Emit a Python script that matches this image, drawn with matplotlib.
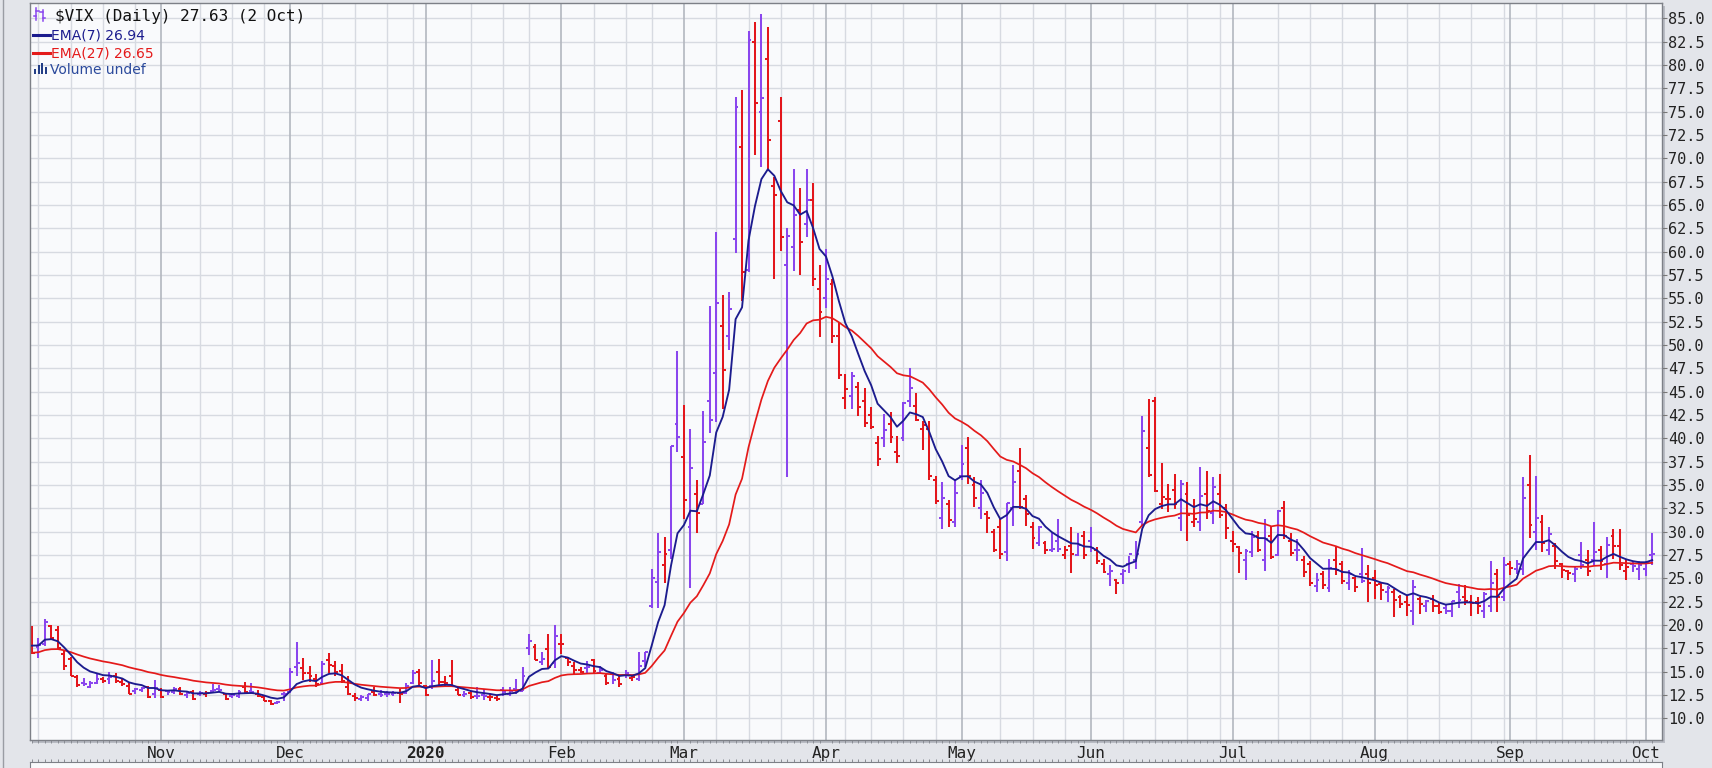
import numpy as np
import pandas as pd
import matplotlib
matplotlib.use("Agg")
import matplotlib.pyplot as plt
from matplotlib.lines import Line2D
from matplotlib.patches import Rectangle

# ---------------- data ----------------
holidays = ['2019-11-28', '2019-12-25', '2020-01-01', '2020-01-20', '2020-02-17',
            '2020-04-10', '2020-05-25', '2020-07-03', '2020-09-07']
dates = pd.bdate_range('2019-10-04', '2020-10-02')
dates = dates[~dates.isin(pd.to_datetime(holidays))]

month_labels = ['Nov', 'Dec', '2020', 'Feb', 'Mar', 'Apr', 'May', 'Jun', 'Jul', 'Aug', 'Sep', 'Oct']
yticks = [10.0, 12.5, 15.0, 17.5, 20.0, 22.5, 25.0, 27.5, 30.0, 32.5, 35.0, 37.5, 40.0, 42.5,
          45.0, 47.5, 50.0, 52.5, 55.0, 57.5, 60.0, 62.5, 65.0, 67.5, 70.0, 72.5, 75.0, 77.5,
          80.0, 82.5, 85.0]

warmup_close = [19.32, 20.31, 19.35, 17.88, 18.98, 19.66, 17.33, 15.82, 15.00, 15.27, 15.20,
                14.61, 14.22, 13.74, 14.67, 14.44, 13.95, 14.05, 15.32, 14.91, 17.05, 15.96,
                16.07, 17.22, 16.24, 18.56, 20.56, 19.12]

open_ = [
    # Oct 2019
    18.9, 17.6, 18.0, 19.9, 19.5, 16.9, 16.3, 14.4, 13.8, 13.4, 13.8, 14.2, 14.2, 14.5, 13.9, 13.5, 12.9, 13.0, 13.3, 12.6,
    # Nov
    13.0, 12.9, 12.8, 13.1, 12.5, 12.8, 12.6, 12.6, 12.9, 13.1, 12.6, 12.4, 12.4, 13.3, 12.9, 12.6, 12.3, 11.9, 11.6, 12.6,
    # Dec
    12.8, 15.5, 15.4, 14.9, 14.2, 13.8, 16.2, 15.6, 15.1, 13.4, 12.4, 12.1, 12.2, 12.8, 12.6, 12.6, 12.6, 12.7, 12.7, 13.8, 15.0,
    # Jan 2020
    13.5, 13.5, 15.0, 13.9, 14.5, 13.0, 12.5, 12.7, 12.4, 12.5, 12.3, 12.2, 13.0, 12.6, 13.1, 12.9, 17.5, 17.6, 16.0, 17.4, 15.9,
    # Feb
    18.0, 16.5, 15.6, 15.2, 15.4, 16.2, 14.9, 14.5, 14.7, 14.2, 14.6, 14.3, 14.2, 16.1, 22.0, 24.6, 26.4, 28.0, 41.5,
    # Mar
    38.0, 30.5, 34.0, 33.0, 44.0, 47.0, 52.0, 51.0, 61.4, 71.2, 58.0, 82.5, 75.0, 80.6, 67.0, 74.0, 58.6, 60.5, 64.5, 63.0, 65.5, 56.0,
    # Apr
    55.0, 56.5, 51.0, 44.3, 44.5, 45.5, 44.0, 42.5, 39.5, 40.0, 41.5, 38.5, 40.0, 44.0, 43.5, 41.0, 41.0, 35.5, 31.5, 33.0, 31.0,
    # May
    36.0, 39.0, 35.0, 32.5, 31.9, 30.0, 30.5, 27.8, 32.5, 36.5, 33.5, 30.5, 28.8, 28.8, 28.0, 29.0, 27.5, 28.5, 27.5, 29.5,
    # Jun
    29.0, 28.0, 26.5, 25.5, 24.8, 25.5, 26.5, 27.0, 31.0, 39.0, 44.0, 33.0, 33.5, 34.5, 31.5, 34.0, 31.0, 31.0, 34.0, 32.0, 34.0, 32.5,
    # Jul
    29.0, 28.3, 27.0, 27.8, 29.5, 27.0, 29.5, 27.5, 32.5, 29.0, 28.0, 27.0, 26.5, 24.2, 25.5, 24.0, 27.0, 26.5, 24.5, 25.0, 25.5, 25.5,
    # Aug
    25.0, 24.4, 23.5, 23.5, 23.0, 22.5, 21.5, 22.8, 22.0, 22.8, 22.0, 21.8, 21.5, 23.5, 23.0, 22.5, 22.5, 21.5, 22.0, 25.5, 23.0,
    # Sep
    26.5, 26.0, 26.0, 35.0, 30.0, 31.0, 28.0, 28.5, 26.5, 25.8, 25.5, 27.5, 27.0, 27.0, 28.0, 26.5, 29.5, 28.5, 25.8, 26.5, 26.0,
    # Oct 2020
    26.0, 27.5,
]

high = [
    19.9, 18.6, 20.6, 20.0, 19.9, 17.2, 16.6, 14.6, 14.3, 14.0, 14.9, 14.4, 15.0, 14.8, 14.3, 13.8, 13.2, 13.4, 13.5, 14.1,
    13.2, 13.0, 13.3, 13.4, 12.9, 13.0, 12.9, 12.9, 13.7, 13.6, 12.7, 12.7, 13.0, 13.9, 13.8, 13.0, 12.5, 12.0, 11.9, 12.8,
    15.4, 18.2, 16.5, 15.6, 14.7, 16.1, 17.0, 16.1, 15.8, 14.5, 12.7, 12.5, 12.6, 13.3, 13.0, 12.9, 12.9, 13.1, 13.8, 15.2, 15.3,
    13.6, 16.2, 16.4, 14.5, 16.2, 13.3, 12.9, 12.9, 13.3, 13.1, 12.6, 12.4, 13.4, 13.3, 14.2, 15.5, 19.0, 18.0, 17.1, 19.0, 20.0,
    19.0, 16.6, 16.0, 15.5, 16.1, 16.3, 15.6, 14.7, 15.0, 14.6, 15.2, 14.6, 17.1, 17.1, 26.0, 29.9, 29.4, 39.2, 49.3,
    43.6, 41.0, 35.5, 42.9, 54.2, 62.1, 55.4, 55.7, 76.6, 77.3, 83.6, 84.6, 85.5, 84.1, 68.0, 76.6, 62.5, 68.8, 66.8, 68.9, 67.4, 58.6,
    60.3, 57.1, 52.5, 46.9, 47.1, 46.0, 45.4, 43.3, 40.2, 42.6, 42.8, 40.2, 43.9, 47.5, 44.8, 41.8, 41.8, 36.0, 35.3, 33.4, 35.6,
    39.3, 40.1, 35.8, 35.5, 32.2, 30.3, 31.4, 33.1, 37.1, 39.0, 33.9, 31.0, 30.6, 29.0, 29.9, 31.4, 28.5, 30.5, 29.8, 30.1,
    30.5, 28.3, 27.1, 26.4, 24.9, 26.0, 27.4, 29.0, 42.4, 44.2, 44.4, 37.4, 35.1, 36.2, 35.5, 35.3, 33.5, 36.9, 36.5, 35.8, 36.2, 33.0,
    30.1, 28.5, 28.1, 30.1, 30.1, 31.4, 30.6, 32.3, 33.3, 29.9, 29.2, 27.4, 26.9, 25.6, 25.8, 27.1, 28.4, 26.9, 25.9, 25.1, 28.2, 26.4,
    25.9, 24.6, 24.2, 23.9, 23.2, 23.2, 24.8, 23.0, 22.7, 23.2, 22.3, 22.1, 22.6, 24.4, 24.3, 23.2, 23.0, 23.5, 26.9, 26.0, 27.3,
    26.8, 27.0, 35.9, 38.2, 36.0, 31.8, 30.5, 28.8, 26.6, 25.9, 26.2, 28.9, 28.0, 31.0, 28.5, 29.4, 30.3, 30.3, 27.1, 26.9, 26.9,
    26.9, 29.8,
]

low = [
    16.9, 16.5, 17.7, 18.5, 17.4, 15.2, 14.5, 13.4, 13.5, 13.2, 13.7, 13.8, 13.7, 13.8, 13.5, 12.6, 12.6, 12.8, 12.2, 12.2,
    12.2, 12.5, 12.6, 12.5, 12.2, 12.0, 12.4, 12.3, 12.7, 12.8, 12.0, 12.2, 12.2, 12.7, 12.6, 12.3, 11.8, 11.4, 11.5, 11.9,
    12.7, 14.5, 14.1, 13.9, 13.4, 13.6, 14.9, 14.5, 13.8, 12.5, 11.8, 11.8, 11.8, 12.4, 12.3, 12.3, 12.4, 11.6, 12.6, 13.7, 13.6,
    12.4, 13.1, 13.5, 13.5, 13.4, 12.5, 12.3, 12.1, 12.1, 12.0, 11.9, 11.8, 12.4, 12.4, 12.6, 12.9, 16.8, 16.2, 15.7, 15.3, 15.4,
    16.9, 15.6, 14.6, 14.8, 14.9, 14.9, 14.8, 13.6, 13.7, 13.4, 14.3, 14.0, 14.0, 15.5, 21.8, 21.8, 24.5, 27.1, 38.5,
    31.3, 24.0, 29.8, 33.0, 40.6, 41.7, 43.1, 49.5, 59.9, 54.7, 57.8, 70.3, 69.1, 68.6, 57.1, 60.1, 35.8, 57.9, 57.5, 61.6, 56.3, 50.8,
    54.0, 50.2, 46.4, 43.1, 43.1, 42.4, 41.2, 41.0, 37.0, 39.1, 39.5, 37.4, 39.7, 43.3, 41.8, 38.7, 35.5, 33.0, 30.3, 30.5, 30.5,
    35.5, 35.1, 32.6, 31.4, 29.9, 27.8, 27.1, 26.8, 30.6, 32.4, 30.6, 28.1, 28.5, 27.6, 27.8, 27.8, 27.1, 25.6, 27.4, 27.1,
    27.8, 26.5, 25.6, 24.2, 23.3, 24.4, 25.6, 26.0, 30.6, 35.8, 34.2, 32.4, 32.1, 32.4, 30.1, 29.0, 30.5, 30.1, 31.4, 30.8, 31.5, 29.2,
    27.8, 25.6, 24.8, 27.3, 27.8, 25.8, 27.1, 27.4, 29.2, 27.4, 26.9, 25.1, 24.2, 23.5, 23.9, 23.5, 25.3, 24.4, 23.7, 23.5, 24.5, 22.5,
    22.8, 22.65, 22.5, 20.9, 21.8, 21.0, 20.0, 21.2, 21.4, 21.4, 21.2, 21.2, 20.9, 21.8, 22.1, 21.0, 21.2, 20.7, 21.4, 21.4, 22.6,
    25.3, 25.5, 25.3, 29.3, 28.0, 27.8, 27.5, 26.0, 25.0, 24.8, 24.6, 26.0, 25.2, 26.4, 25.9, 25.0, 27.1, 25.9, 24.8, 25.7, 24.8,
    25.2, 26.4,
]

close = [
    17.04, 17.86, 20.28, 18.64, 17.57, 15.58, 14.57, 13.54, 13.68, 13.79, 14.25, 14.00, 14.46, 14.01, 13.71, 12.65, 13.11, 13.20, 12.33, 13.22,
    12.30, 12.83, 13.10, 12.62, 12.73, 12.07, 12.69, 12.68, 13.00, 13.05, 12.05, 12.46, 12.86, 12.78, 12.78, 12.34, 11.87, 11.54, 11.75, 12.62,
    14.91, 15.96, 14.80, 14.52, 13.62, 15.86, 15.68, 14.99, 13.94, 12.63, 12.14, 12.29, 12.58, 12.50, 12.51, 12.61, 12.67, 12.65, 13.43, 14.82, 13.78,
    12.47, 14.02, 13.85, 13.79, 13.45, 12.54, 12.56, 12.32, 12.39, 12.42, 12.32, 12.10, 12.85, 12.91, 12.98, 14.56, 18.23, 16.28, 16.39, 15.49, 18.84,
    17.97, 16.05, 15.15, 14.96, 15.47, 15.04, 15.18, 13.74, 14.15, 13.68, 14.83, 14.38, 15.56, 17.08, 25.03, 27.85, 27.56, 39.16, 40.11,
    33.42, 36.82, 31.99, 39.62, 41.94, 54.46, 47.30, 53.90, 75.47, 57.83, 82.69, 75.91, 76.45, 72.00, 66.04, 61.59, 61.67, 63.95, 61.00, 65.54, 57.08, 53.54,
    57.06, 50.91, 46.80, 45.24, 46.70, 43.35, 41.67, 41.17, 37.76, 40.84, 40.11, 38.15, 43.83, 45.41, 41.98, 41.38, 35.93, 33.29, 33.57, 31.23, 34.15,
    37.19, 35.97, 33.61, 34.12, 31.44, 27.98, 27.57, 33.04, 35.28, 32.61, 31.89, 29.30, 30.53, 27.99, 28.16, 28.16, 28.01, 27.62, 28.59, 27.51,
    28.23, 26.84, 25.66, 25.81, 24.52, 25.81, 27.57, 27.57, 40.79, 36.09, 34.40, 33.67, 33.47, 32.94, 35.12, 31.77, 31.37, 33.84, 32.22, 34.73, 31.78, 30.43,
    28.62, 27.68, 27.94, 29.43, 28.08, 29.26, 27.29, 32.19, 29.52, 27.76, 28.00, 25.68, 24.46, 24.84, 24.32, 26.08, 25.84, 24.74, 25.44, 24.10, 24.76, 24.46,
    24.28, 23.76, 23.99, 22.65, 22.21, 22.13, 24.03, 22.28, 22.59, 22.05, 21.35, 21.51, 22.54, 22.72, 22.54, 22.37, 22.03, 23.27, 24.47, 22.96, 26.41,
    26.12, 26.57, 33.60, 30.75, 31.46, 28.81, 29.71, 26.87, 25.85, 25.59, 26.04, 26.46, 25.83, 27.78, 26.86, 28.58, 28.51, 26.38, 26.19, 26.27, 26.37,
    26.70, 27.63,
]

title_text = "$VIX (Daily) 27.63 (2 Oct)"
ema7_text = "EMA(7) 26.94"
ema27_text = "EMA(27) 26.65"
vol_text = "Volume undef"

# ---------------- styling ----------------
PURPLE = '#8a46ee'
RED = '#e3161c'
NAVY = '#1c1c8e'
EMA_RED = '#e41a1a'
FIG_BG = '#e3e5ea'
AX_BG = '#f9fafc'
GRID = '#d7dae1'
GRID_M = '#b3b7bf'

W, H = 1712, 768
fig = plt.figure(figsize=(W / 100, H / 100), dpi=100, facecolor=FIG_BG)


def fx(px):
    return px / W


def fy(py):
    return 1 - py / H


AXL, AXR, AXT, AXB = 30, 1662, 3, 740
PX_PER_BAR = 6.455
FIRST_BAR_X = 32

# shadow of the price panel
fig.patches.append(Rectangle((fx(AXL + 3), fy(AXB + 3)), fx(AXR - AXL), (AXB - AXT) / H,
                             transform=fig.transFigure, facecolor='#b9bcc4',
                             edgecolor='none', zorder=-5))
fig.lines.append(Line2D([fx(2.5), fx(2.5)], [0, 1], transform=fig.transFigure,
                        color='#9a9da4', lw=1.0))

ax = fig.add_axes([fx(AXL), fy(AXB), fx(AXR - AXL), (AXB - AXT) / H])
ax.set_facecolor(AX_BG)

n = len(close)
assert len(open_) == n and len(high) == n and len(low) == n and len(dates) == n
idx = np.arange(n)

ax.set_xlim((AXL - FIRST_BAR_X) / PX_PER_BAR, (AXR - FIRST_BAR_X) / PX_PER_BAR)
ax.set_ylim(7.67, 86.64)

# grid
month_starts = [i for i in range(1, n) if dates[i].month != dates[i - 1].month]
week_starts = [i for i in range(1, n)
               if dates[i].isocalendar()[1] != dates[i - 1].isocalendar()[1]]
for y in yticks:
    ax.axhline(y, color=GRID, lw=1.0, zorder=0)
for w in week_starts:
    if any(0 <= w - m <= 2 for m in month_starts):
        continue
    ax.axvline(w, color=GRID, lw=1.0, zorder=0)
for m in month_starts:
    ax.axvline(m, color=GRID_M, lw=1.2, zorder=0)

# OHLC bars
prev = np.r_[warmup_close[-1], np.array(close[:-1])]
colors = np.where(np.array(close) >= prev, PURPLE, RED)
ax.vlines(idx, low, high, colors=colors, lw=1.45, zorder=2)
ax.hlines(open_, idx - 0.45, idx, colors=colors, lw=1.45, zorder=2)
ax.hlines(close, idx, idx + 0.45, colors=colors, lw=1.45, zorder=2)

# EMAs
series = pd.Series(list(warmup_close) + list(close))
ema7 = series.ewm(span=7, adjust=False).mean().values[len(warmup_close):]
ema27 = series.ewm(span=27, adjust=False).mean().values[len(warmup_close):]
ax.plot(idx, ema27, color=EMA_RED, lw=1.25, zorder=3)
ax.plot(idx, ema7, color=NAVY, lw=1.35, zorder=4)

# axes
for s in ax.spines.values():
    s.set_color('#7d8087')
    s.set_linewidth(1.0)
ax.yaxis.tick_right()
ax.set_yticks(yticks)
ax.set_yticklabels([f"{v:.1f}" for v in yticks], family='DejaVu Sans Mono',
                   fontsize=11, color='#222222')
ax.tick_params(axis='y', which='major', length=3.5, width=0.8, color='#777777', pad=1)
ax.set_xticks(month_starts)
ax.set_xticklabels(month_labels, family='DejaVu Sans Mono', fontsize=11.5, color='#222222')
for lab in ax.get_xticklabels():
    if lab.get_text().isdigit():
        lab.set_fontweight('bold')
ax.set_xticks(idx, minor=True)
ax.tick_params(axis='x', which='major', length=0, pad=4)
ax.tick_params(axis='x', which='minor', length=2.0, width=0.7, color='#8a8d94', direction='out')

# lower (cut-off) panel
ax2 = fig.add_axes([fx(AXL), 0, fx(AXR - AXL), 6.5 / H])
ax2.set_facecolor(AX_BG)
ax2.set_xlim(ax.get_xlim())
ax2.set_yticks([])
ax2.set_xticks(idx, minor=True)
ax2.set_xticks([])
ax2.tick_params(axis='x', which='minor', length=2.0, width=0.7, color='#8a8d94',
                direction='out', top=True, bottom=False, labelbottom=False)
for k, s in ax2.spines.items():
    s.set_color('#7d8087')
    s.set_visible(k != 'bottom')

# legend block
fig.text(fx(55), fy(20.5), title_text, family='DejaVu Sans Mono', fontsize=11.5,
         color='#111111', va='baseline', ha='left')
# small bar icon
for x0, c, y_top, y_bot, yo, yc in [(36, PURPLE, 8, 20, 16, 11), (42.5, PURPLE, 10, 21, 12, 18)]:
    fig.lines.append(Line2D([fx(x0), fx(x0)], [fy(y_top), fy(y_bot)], transform=fig.transFigure,
                            color=c, lw=1.1))
    fig.lines.append(Line2D([fx(x0 - 2.5), fx(x0)], [fy(yo), fy(yo)], transform=fig.transFigure,
                            color=c, lw=1.1))
    fig.lines.append(Line2D([fx(x0), fx(x0 + 2.5)], [fy(yc), fy(yc)], transform=fig.transFigure,
                            color=c, lw=1.1))

fig.lines.append(Line2D([fx(33), fx(50)], [fy(34.5), fy(34.5)], transform=fig.transFigure,
                        color=NAVY, lw=2.2))
fig.text(fx(51), fy(39.5), ema7_text, fontsize=10, color=NAVY, va='baseline', ha='left')
fig.lines.append(Line2D([fx(33), fx(50)], [fy(52.5), fy(52.5)], transform=fig.transFigure,
                        color=EMA_RED, lw=2.2))
fig.text(fx(51), fy(57.5), ema27_text, fontsize=10, color=EMA_RED, va='baseline', ha='left')
for x0, hgt in [(34, 5), (37.5, 9), (41, 11), (44.5, 7)]:
    fig.patches.append(Rectangle((fx(x0), fy(74)), fx(2.4), hgt / H, transform=fig.transFigure,
                                 facecolor='#233e86', edgecolor='none'))
fig.text(fx(50.5), fy(74.5), vol_text, fontsize=10, color='#2b4a9c', va='baseline', ha='left')

fig.savefig("out.png", dpi=100, facecolor=FIG_BG)
